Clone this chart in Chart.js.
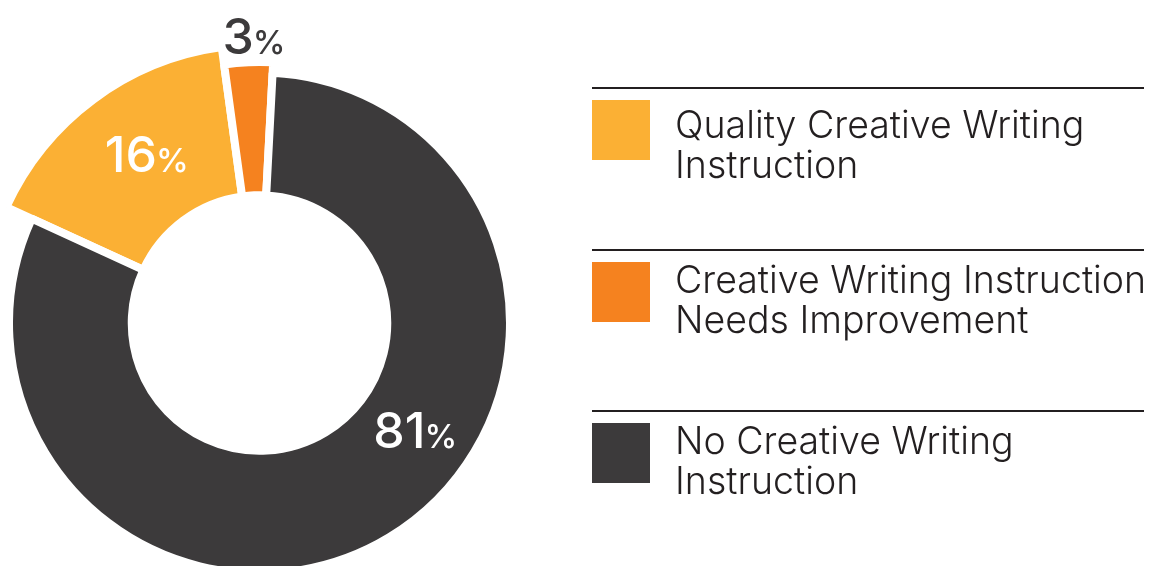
<!DOCTYPE html>
<html>
<head>
<meta charset="utf-8">
<script src="https://cdn.jsdelivr.net/npm/chart.js@4/dist/chart.umd.min.js"></script>
<style>
  html, body { margin: 0; padding: 0; background: #ffffff; overflow: hidden; }
  #wrap { position: relative; width: 1150px; height: 566px; }
</style>
</head>
<body>
<div id="wrap"><canvas id="c" width="1150" height="566"></canvas></div>
<script>
// Survey shares (percent), in legend order
const categories = [
  'Quality Creative Writing Instruction',
  'Creative Writing Instruction Needs Improvement',
  'No Creative Writing Instruction'
];
const legendLines = [
  ['Quality Creative Writing', 'Instruction'],
  ['Creative Writing Instruction', 'Needs Improvement'],
  ['No Creative Writing', 'Instruction']
];
const shares = [16, 3, 81];

// Styling
const colors = ['#fbb034', '#f5821f', '#3c3a3b'];
const extraRadius = [28, 10.5, 0];          // slices that stand out beyond the ring
const labelColors = ['#ffffff', '#3c3a3b', '#ffffff'];
const labelAngleFrac = [0.55, 0.62, 0.417]; // where along each slice its label sits
const labelOutside = [false, true, false];
const FONT = 'Inter, "Open Sans", sans-serif';
const TEXT_DARK = '#231f20';

// Grow selected slices outward after the controller lays out the ring
const ringExtras = {
  id: 'ringExtras',
  afterDatasetUpdate(chart, args) {
    args.meta.data.forEach((arc, i) => { arc.outerRadius += extraRadius[i] || 0; });
  }
};

// Percent labels: large number with a smaller % sign
const sliceLabels = {
  id: 'sliceLabels',
  afterDatasetsDraw(chart) {
    const ctx = chart.ctx;
    const meta = chart.getDatasetMeta(0);
    meta.data.forEach((arc, i) => {
      const p = arc.getProps(['x', 'y', 'startAngle', 'endAngle', 'innerRadius', 'outerRadius'], true);
      const a = p.startAngle + (p.endAngle - p.startAngle) * labelAngleFrac[i];
      const r = labelOutside[i] ? p.outerRadius + 26 : (p.innerRadius + p.outerRadius) / 2;
      const cx = p.x + Math.cos(a) * r;
      const cy = p.y + Math.sin(a) * r;
      const num = String(chart.data.datasets[0].data[i]);
      ctx.save();
      ctx.fillStyle = labelColors[i];
      ctx.textBaseline = 'alphabetic';
      ctx.textAlign = 'left';
      const bigFont = '500 50px ' + FONT;
      const smallFont = '500 33px ' + FONT;
      ctx.font = bigFont;
      const w1 = ctx.measureText(num).width;
      ctx.font = smallFont;
      const w2 = ctx.measureText('%').width;
      const gap = -1;
      const x0 = cx - (w1 + gap + w2) / 2;
      const base = cy + 18;
      ctx.font = bigFont;
      ctx.fillText(num, x0, base);
      ctx.font = smallFont;
      ctx.fillText('%', x0 + w1 + gap, base);
      ctx.restore();
    });
  }
};

// Legend on the right: rule, swatch, two-line caption per entry
const ruleY = [88, 250, 411];
const captionY = [138, 293, 454];
const sideLegend = {
  id: 'sideLegend',
  afterDraw(chart) {
    const ctx = chart.ctx;
    const ds = chart.data.datasets[0];
    const left = 592, right = 1144;
    ctx.save();
    chart.data.labels.forEach((lab, i) => {
      const ry = ruleY[i];
      ctx.fillStyle = TEXT_DARK;
      ctx.fillRect(left, ry - 1, right - left, 2);
      ctx.fillStyle = ds.backgroundColor[i];
      ctx.fillRect(left, ry + 12, 58, 60);
      ctx.fillStyle = TEXT_DARK;
      ctx.font = '300 37.5px ' + FONT;
      ctx.textAlign = 'left';
      ctx.textBaseline = 'alphabetic';
      legendLines[i].forEach((line, k) => {
        ctx.fillText(line, 675, captionY[i] + k * 40);
      });
    });
    ctx.restore();
  }
};

new Chart(document.getElementById('c'), {
  type: 'doughnut',
  data: {
    labels: categories,
    datasets: [{
      data: shares,
      backgroundColor: colors,
      borderColor: '#ffffff',
      borderWidth: 8,
      borderAlign: 'center',
      borderJoinStyle: 'bevel',
      clip: false
    }]
  },
  options: {
    responsive: false,
    animation: false,
    events: [],
    rotation: 294.6,
    radius: 250.5,
    cutout: '51%',
    layout: { padding: { left: 0, right: 631, top: 80, bottom: 0 } },
    plugins: {
      legend: { display: false },
      tooltip: { enabled: false }
    }
  },
  plugins: [ringExtras, sliceLabels, sideLegend]
});
</script>
</body>
</html>
